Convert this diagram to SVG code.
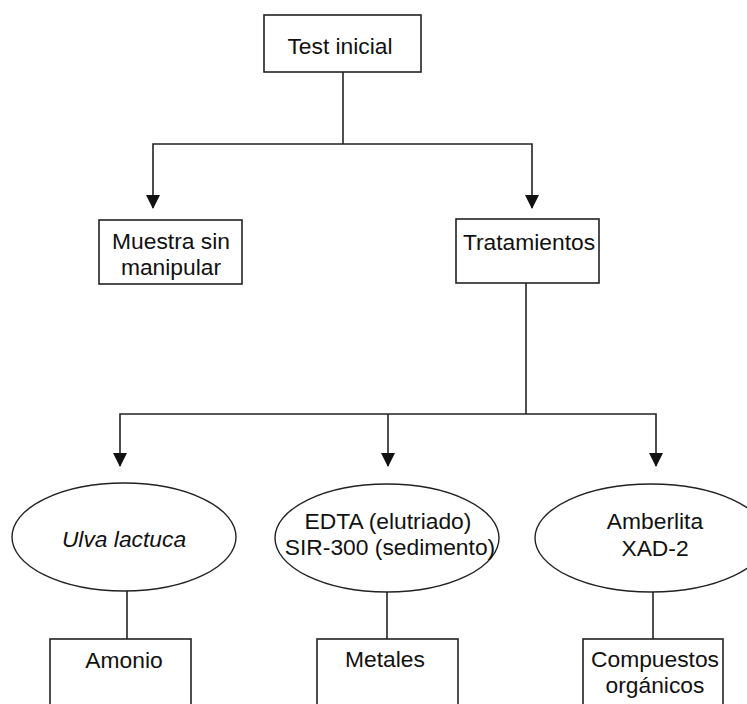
<svg xmlns="http://www.w3.org/2000/svg" width="747" height="704" viewBox="0 0 747 704">
<defs>
<style>
.box{fill:#fff;stroke:#222;stroke-width:1.6}
.ell{fill:#fff;stroke:#222;stroke-width:1.4}
.ln{fill:none;stroke:#222;stroke-width:1.6}
text{font-family:"Liberation Sans",Arial,sans-serif;font-size:22.8px;fill:#111;text-anchor:middle}
.it{font-style:italic}
</style>
<marker id="arr" markerUnits="userSpaceOnUse" markerWidth="14" markerHeight="14" viewBox="0 0 14 14" refX="13" refY="7" orient="auto">
<path d="M0,0 L14,7 L0,14 Z" fill="#111"/>
</marker>
</defs>
<rect width="747" height="704" fill="#fff"/>
<g id="connectors">
<path class="ln" d="M343,72 V144"/>
<path class="ln" d="M343,144 H153 V208" marker-end="url(#arr)"/>
<path class="ln" d="M343,144 H532 V208" marker-end="url(#arr)"/>
<path class="ln" d="M526,283 V414"/>
<path class="ln" d="M526,414 H120 V466" marker-end="url(#arr)"/>
<path class="ln" d="M388,414 V466" marker-end="url(#arr)"/>
<path class="ln" d="M526,414 H656 V466" marker-end="url(#arr)"/>
<path class="ln" d="M127,591 V639"/>
<path class="ln" d="M387,592 V639"/>
<path class="ln" d="M653,592 V639"/>
</g>
<g id="n-test">
<rect class="box" x="264" y="15" width="157" height="57"/>
<text x="340" y="54">Test inicial</text>
</g>
<g id="n-muestra">
<rect class="box" x="99" y="220" width="143" height="64"/>
<text x="171" y="249">Muestra sin</text>
<text x="171" y="275">manipular</text>
</g>
<g id="n-trat">
<rect class="box" x="456" y="219" width="143" height="64"/>
<text x="529" y="250">Tratamientos</text>
</g>
<g id="n-ulva">
<ellipse class="ell" cx="124" cy="537" rx="112" ry="54"/>
<text class="it" x="124" y="547">Ulva lactuca</text>
</g>
<g id="n-edta">
<ellipse class="ell" cx="387" cy="538" rx="112" ry="54"/>
<text x="388" y="529">EDTA (elutriado)</text>
<text x="390" y="555">SIR-300 (sedimento)</text>
</g>
<g id="n-amber">
<ellipse class="ell" cx="651" cy="538" rx="116" ry="54"/>
<text x="655" y="529">Amberlita</text>
<text x="655" y="556">XAD-2</text>
</g>
<g id="n-amonio">
<rect class="box" x="50" y="639" width="141" height="90"/>
<text x="124" y="668">Amonio</text>
</g>
<g id="n-metales">
<rect class="box" x="317" y="639" width="141" height="90"/>
<text x="385" y="667">Metales</text>
</g>
<g id="n-comp">
<rect class="box" x="583" y="639" width="140" height="90"/>
<text x="655" y="667">Compuestos</text>
<text x="655" y="693">orgánicos</text>
</g>
</svg>
